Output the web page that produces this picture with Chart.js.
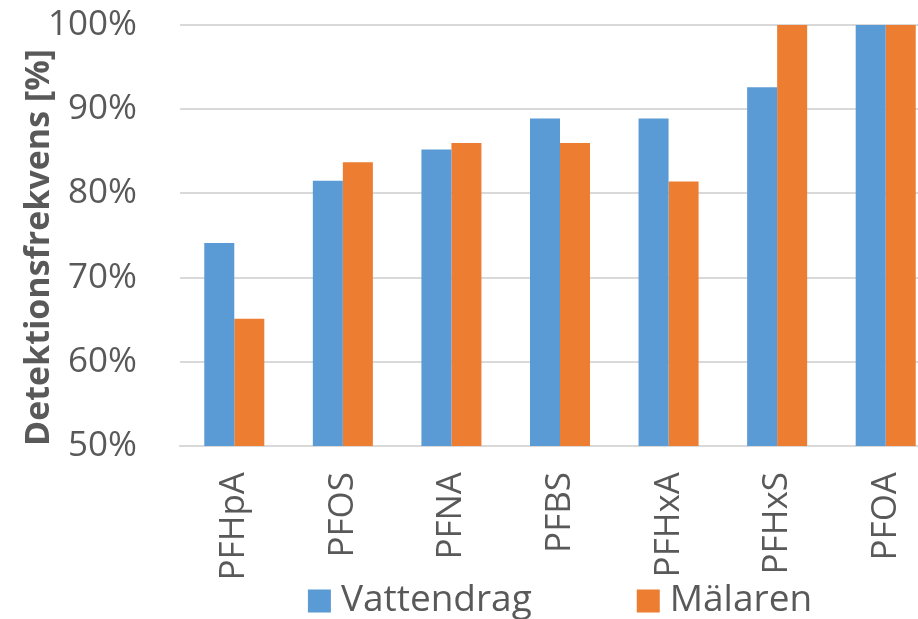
<!DOCTYPE html>
<html>
<head>
<meta charset="utf-8">
<script src="https://cdn.jsdelivr.net/npm/chart.js@4/dist/chart.umd.min.js"></script>
<style>
  html, body { margin: 0; padding: 0; background: #ffffff; overflow: hidden; }
  #wrap { width: 918px; height: 619px; overflow: hidden; position: relative; }
  canvas { display: block; }
</style>
</head>
<body>
<div id="wrap"><canvas id="c" width="940" height="619"></canvas></div>
<script>
const categories = ["PFHpA", "PFOS", "PFNA", "PFBS", "PFHxA", "PFHxS", "PFOA"];
const vattendrag = [74.1, 81.5, 85.2, 88.9, 88.9, 92.6, 100];
const malaren = [65.1, 83.7, 86.0, 86.0, 81.4, 100, 100];
const seriesNames = ["Vattendrag", "Mälaren"];
const seriesColors = ["#5B9BD5", "#ED7D31"];
const yTitle = "Detektionsfrekvens [%]";

const textColor = "#595959";
const fontFamily = "'Open Sans', sans-serif";

const customLegend = {
  id: 'customLegend',
  afterDraw(chart) {
    const ctx = chart.ctx;
    const ca = chart.chartArea;
    const box = 23, boxGap = 10, itemGap = 105;
    ctx.save();
    ctx.font = "37px " + fontFamily;
    const items = chart.data.datasets.map(ds => ({
      text: ds.label, color: ds.backgroundColor, w: ctx.measureText(ds.label).width
    }));
    let total = 0;
    items.forEach((it, i) => { total += box + boxGap + it.w + (i ? itemGap : 0); });
    let x = (ca.left + ca.right) / 2 - total / 2;
    const yc = chart.height - 19;
    ctx.textBaseline = 'middle';
    ctx.textAlign = 'left';
    items.forEach((it, i) => {
      if (i) x += itemGap;
      ctx.fillStyle = it.color;
      ctx.fillRect(x, yc - box / 2 + 1, box, box);
      x += box + boxGap;
      ctx.fillStyle = textColor;
      ctx.fillText(it.text, x, yc);
      x += it.w;
    });
    ctx.restore();
  }
};

new Chart(document.getElementById('c'), {
  type: 'bar',
  data: {
    labels: categories,
    datasets: [
      { label: seriesNames[0], data: vattendrag, backgroundColor: seriesColors[0], borderWidth: 0 },
      { label: seriesNames[1], data: malaren, backgroundColor: seriesColors[1], borderWidth: 0 }
    ]
  },
  options: {
    responsive: false,
    animation: false,
    devicePixelRatio: 1,
    layout: { padding: { top: 25, right: 0, bottom: 23, left: 0 } },
    categoryPercentage: 0.553,
    barPercentage: 1.0,
    plugins: {
      legend: { display: false },
      tooltip: { enabled: false },
      title: { display: false }
    },
    scales: {
      x: {
        grid: { display: false, drawTicks: false },
        border: { display: true, color: '#D9D9D9', width: 2 },
        ticks: {
          color: textColor,
          font: { family: fontFamily, size: 35 },
          minRotation: 90,
          maxRotation: 90,
          autoSkip: false,
          padding: 26
        },
        afterFit: (scale) => { scale.height = 150; scale.paddingLeft = 0; scale.paddingRight = 0; }
      },
      y: {
        min: 50,
        max: 100,
        grid: { color: '#D9D9D9', lineWidth: 2, drawTicks: false },
        border: { display: false },
        ticks: {
          stepSize: 10,
          color: textColor,
          font: { family: fontFamily, size: 35 },
          padding: 43,
          callback: (v) => v + '%'
        },
        title: {
          display: true,
          text: yTitle,
          align: 'start',
          color: textColor,
          font: { family: fontFamily, size: 34, weight: 'bold' },
          padding: { top: 19, bottom: 0 }
        },
        afterFit: (scale) => { scale.width = 180; scale.paddingTop = 0; scale.paddingBottom = 0; }
      }
    }
  },
  plugins: [customLegend]
});
</script>
</body>
</html>
